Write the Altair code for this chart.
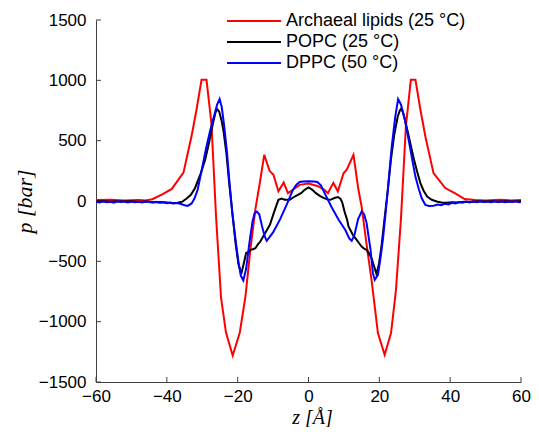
import altair as alt
import pandas as pd

S_RED = "Archaeal lipids (25 °C)"
S_BLACK = "POPC (25 °C)"
S_BLUE = "DPPC (50 °C)"

red_z = [-60, -56, -52, -48, -46, -44.1, -41.3, -38.6, -35.3, -33.0, -31.6, -30.2, -28.8, -27.4, -26.1,
         -24.7, -23.3, -21.4, -19.4, -17.8, -16.4, -15.0, -13.6, -12.5, -11.0, -9.9, -8.5, -7.0, -5.8,
         -4.4, -2.5, 0, 2.5, 4.4, 5.5, 7.0, 8.3, 9.9, 10.8, 12.7, 14.1, 15.0, 16.4, 17.8, 19.6, 21.5,
         23.3, 24.7, 26.1, 27.5, 28.9, 30.2, 31.6, 33.0, 35.3, 38.6, 41.3, 44.1, 47, 50, 54, 57, 60]
red_p = [8, 10, 5, 8, 5, 15, 55, 100, 235, 540, 760, 1005, 1005, 640, -130,
         -800, -1090, -1280, -1090, -790, -400, -70, 176, 383, 250, 217, 80, 153, 65,
         93, 134, 145, 125, 95, 65, 150, 80, 230, 260, 383, 93, -46, -360, -653, -1095, -1275,
         -1095, -736, -150, 618, 1005, 1005, 756, 535, 231, 107, 65, 16, 8, 5, 10, 5, 8]

black_z = [-60, -58, -56, -54, -52, -50, -48, -46, -44, -42, -40, -38.5, -37, -35.6, -34.4, -33.2,
           -32, -30.4, -29.2, -28.1, -27.0, -26.3, -25.8, -25.2, -24.5, -24, -23.2, -22.4, -21.5,
           -20.6, -19.8, -19.0, -18.3, -17.6, -16.8, -16.4, -15.7, -15, -14.3, -13.6, -12.3, -10.9,
           -9.7, -8.5, -7.6, -6.7, -5.3, -3.9, -2.1, -1, 0, 1, 2.1, 3.3, 4.4, 5.5, 6.2, 7.3, 8.3,
           9.0, 9.5, 10.2, 10.9, 11.3, 12.5, 13.6, 14.3, 15.0, 15.7, 16.4, 17.2, 17.8, 18.5, 19.2,
           19.9, 20.6, 21.5, 22.4, 23.3, 24.2, 25.2, 25.8, 26.1, 26.6, 27.0, 27.9, 28.8, 29.8, 30.7,
           31.6, 32.5, 33.5, 34.8, 36.2, 37.5, 39, 40.5, 42, 44, 46, 48, 50, 52, 54, 56, 58, 60]
black_p = [-5, -3, -6, -2, -5, -3, -8, -5, -10, -8, -12, -18, -15, -5, 20, 51,
           110, 231, 340, 480, 640, 730, 762, 740, 660, 580, 400, 150, -100,
           -350, -520, -606, -520, -430, -420, -405, -400, -391, -360, -336, -270, -197,
           -90, 10, 20, 10, 10, 37, 65, 95, 112, 95, 65, 40, 24, 12, 10, 25, 32,
           20, -10, -90, -156, -211, -280, -322, -350, -377, -395, -405, -440, -474, -540, -606,
           -520, -377, -140, 93, 350, 549, 700, 750, 762, 740, 700, 590, 470, 342, 240,
           148, 85, 37, 10, -4, -12, -15, -10, -12, -6, -8, -3, -5, -2, -6, -3, -5, -2]

blue_z = [-60, -59, -58, -57, -56, -55, -54, -53, -52, -51, -50, -49, -48, -47, -46, -45, -44, -43,
          -42, -41, -40, -39, -38, -37, -36, -35, -34.1, -33, -32.2, -31.3, -30.2, -29.0, -27.8,
          -26.7, -25.8, -25.1, -24.5, -23.8, -23, -22.3, -21.5, -20.6, -19.8, -19.1, -18.4, -17.6,
          -16.7, -15.8, -15.2, -14.6, -13.9, -13.2, -12.4, -11.8, -11.0, -10, -8, -6, -4.4, -3.4,
          -2.5, -1.5, 0, 1.5, 2.5, 3.5, 4.8, 6.5, 8.5, 10.4, 11.5, 12.2, 13.0, 14.0, 15.0, 15.7,
          16.4, 17.5, 18.2, 18.7, 19.6, 20.3, 21.0, 21.7, 22.4, 23.5, 24.5, 25.3, 26.1, 27.0, 28.2,
          29.3, 30.2, 31.2, 32, 33.0, 34, 35.3, 36.5, 37.5, 38.5, 39.5, 40.5, 41.5, 42.5, 43.5, 44.5,
          45.5, 46.5, 47.5, 48.5, 49.5, 50.5, 51.5, 52.5, 53.5, 54.5, 55.5, 56.5, 57.5, 58.5, 59.5, 60]
blue_p = [-5, -12, -3, -10, -6, -14, -2, -9, -5, -12, -4, -10, -6, -13, -5, -9, -12, -7,
          -15, -10, -18, -13, -20, -16, -25, -35, -40, -20, 20, 93, 250, 425, 580,
          701, 800, 845, 780, 620, 400, 150, -100, -320, -500, -620, -659, -560,
          -350, -170, -100, -87, -110, -200, -290, -330, -300, -260, -150, -20, 93, 135,
          158, 162, 163, 162, 158, 130, 51, -50, -156, -240, -310, -330, -280, -150, -87, -110,
          -183, -400, -600, -653, -612, -480, -322, -120, 93, 450, 700, 845, 800, 701, 520,
          342, 200, 93, 20, -32, -42, -40, -30, -35, -22, -28, -15, -20, -8, -15, -5,
          -12, -3, -10, -2, -9, -4, -11, -3, -8, -2, -10, -4, -9, -3, -10, -5]

x_ticks = [-60, -40, -20, 0, 20, 40, 60]
y_ticks = [-1500, -1000, -500, 0, 500, 1000, 1500]

series_order = [S_RED, S_BLACK, S_BLUE]
series_colors = ["#ff0000", "#000000", "#0000ff"]

df = pd.concat([
    pd.DataFrame({"z": red_z, "p": red_p, "series": S_RED}),
    pd.DataFrame({"z": black_z, "p": black_p, "series": S_BLACK}),
    pd.DataFrame({"z": blue_z, "p": blue_p, "series": S_BLUE}),
], ignore_index=True)

xscale = alt.Scale(domain=[-60, 60], nice=False)
yscale = alt.Scale(domain=[-1500, 1500], nice=False)

color = alt.Color(
    "series:N",
    scale=alt.Scale(domain=series_order, range=series_colors),
    legend=alt.Legend(
        title=None, orient="none", legendX=149, legendY=-8,
        symbolType="M-4,0H4", symbolSize=182, symbolStrokeWidth=2,
        labelFont="Liberation Sans", labelFontSize=18, labelColor="#000000", labelLimit=400,
        labelOffset=23, rowPadding=3, padding=0,
    ),
)

base = alt.Chart(df)

lines = []
for s in series_order:
    lines.append(
        base.transform_filter(alt.datum.series == s)
        .mark_line(strokeWidth=2, clip=True)
        .encode(
            x=alt.X("z:Q", scale=xscale,
                    axis=alt.Axis(title="z [Å]", values=x_ticks, ticks=False, grid=False, format="d",
                                  labelFlush=False, labelPadding=6, titleFontSize=20,
                                  titleX=216, titleY=41, titleBaseline="alphabetic")),
            y=alt.Y("p:Q", scale=yscale,
                    axis=alt.Axis(title="p [bar]", values=y_ticks, ticks=False, grid=False, format="d",
                                  labelPadding=10,
                                  titleX=-65, titleY=181, titleBaseline="alphabetic")),
            color=color,
            order=alt.Order("z:Q"),
        )
    )

ytick_layer = alt.Chart(pd.DataFrame({"p": y_ticks})).mark_rule(color="#404040", strokeWidth=1).encode(
    y=alt.Y("p:Q", scale=yscale),
    x=alt.value(0),
    x2=alt.value(5),
)
xtick_layer = alt.Chart(pd.DataFrame({"z": x_ticks})).mark_rule(color="#404040", strokeWidth=1).encode(
    x=alt.X("z:Q", scale=xscale),
    y=alt.value({"expr": "height"}),
    y2=alt.value({"expr": "height - 5"}),
)

chart = alt.layer(ytick_layer, xtick_layer, *lines).properties(
    width=425, height=362,
    autosize="none",
    padding={"left": 88, "top": 12, "right": 10, "bottom": 45},
    background="white",
).configure_view(stroke=None).configure_axis(
    domainColor="#404040",
    domainWidth=1,
    labelFont="Liberation Sans",
    labelFontSize=17,
    labelColor="#000000",
    titleFont="Liberation Serif",
    titleFontStyle="italic",
    titleFontWeight="normal",
    titleFontSize=22,
    titleColor="#000000",
)

chart.save("out.html", embed_options={"renderer": "svg", "actions": False})
